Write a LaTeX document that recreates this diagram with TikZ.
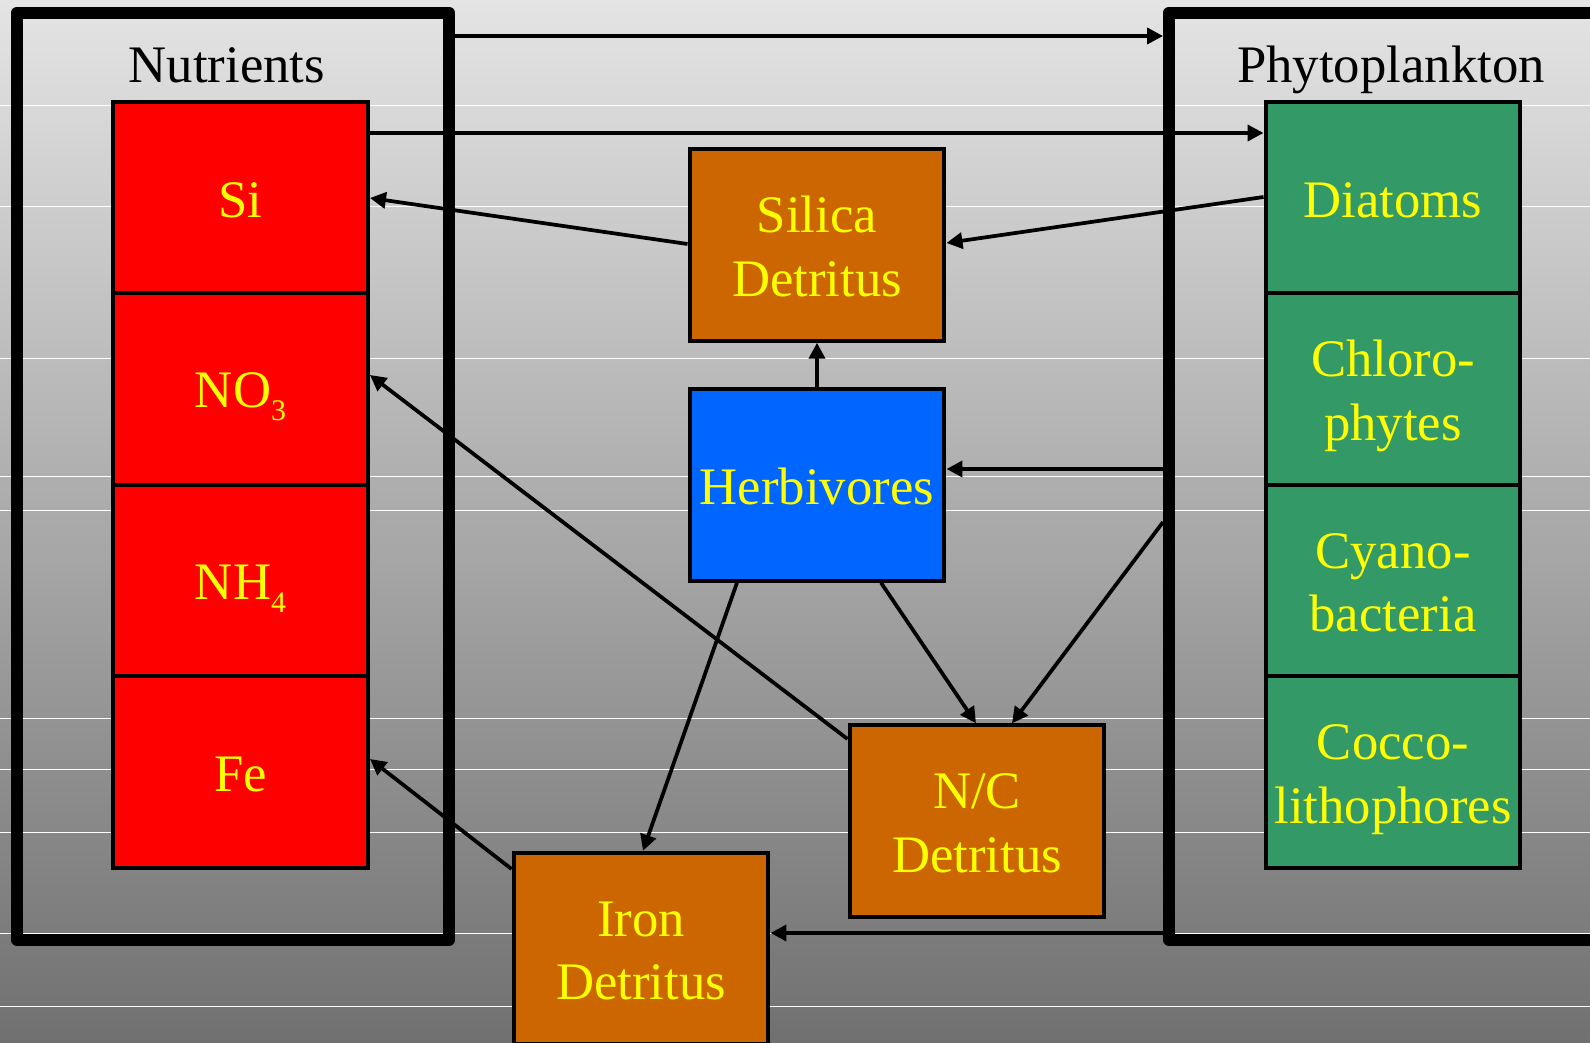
\documentclass[tikz,border=0pt]{standalone}
\usepackage{fontspec}
\setmainfont{Liberation Serif}
\usetikzlibrary{arrows.meta}
\definecolor{bgtop}{RGB}{228,228,228}
\definecolor{bgbot}{RGB}{112,112,112}
\definecolor{nutred}{RGB}{255,0,0}
\definecolor{phygreen}{RGB}{51,153,102}
\definecolor{detorange}{RGB}{204,102,0}
\definecolor{herbblue}{RGB}{0,102,255}
\definecolor{labyellow}{RGB}{255,255,0}
\newcommand\pst{\rule[-0.216em]{0pt}{1.176em}}
\newcommand\psb{\rule[-0.216em]{0pt}{1.107em}}
\newcommand\lowsub[1]{\raisebox{-7.7pt}{\fontsize{17}{17}\selectfont #1}}
\begin{document}
\begin{tikzpicture}[x=0.02cm, y=-0.02cm,
  groupframe/.style={draw=black, line width=0.24cm, line join=round, inner sep=0pt},
  cell/.style={draw=black, line width=0.08cm, inner sep=0pt, minimum width=5.1cm, minimum height=3.83cm, text=labyellow, align=center, font=\fontsize{30}{36}\selectfont},
  grouptitle/.style={inner sep=0pt, anchor=base, text=black, font=\fontsize{30}{36}\selectfont},
  flowarrow/.style={draw=black, line width=0.075cm, -{Triangle[length=0.32cm,width=0.32cm]}},
  bgline/.style={white, line width=0.02cm}]
\useasboundingbox (0,0) rectangle (1590,1043);
\clip (0,0) rectangle (1590,1043);
\shade[top color=bgtop, bottom color=bgbot] (0,0) rectangle (1590,1043);
\foreach \yy in {106,207,359,477,511,719,770,832,933,1006}
  \draw[bgline] (0,\yy) -- (1590,\yy);
% group frames
\node[groupframe, minimum width=8.64cm, minimum height=18.55cm] (nutframe) at (233,476.25) {};
\node[groupframe, minimum width=9.42cm, minimum height=18.55cm] (phyframe) at (1404.5,476.25) {};
% nutrients
\node[cell, fill=nutred] (si) at (240.5,197.5) {\pst Si};
\node[cell, fill=nutred] (no3) at (240.5,389) {\pst NO\lowsub{3}};
\node[cell, fill=nutred] (nh4) at (240.5,580.5) {\pst NH\lowsub{4}};
\node[cell, fill=nutred] (fe) at (240.5,772) {\pst Fe};
% phytoplankton
\node[cell, fill=phygreen] (dia) at (1393,197.5) {\pst Diatoms};
\node[cell, fill=phygreen] (chl) at (1393,389) {\pst Chloro-\\\psb phytes};
\node[cell, fill=phygreen] (cya) at (1393,580.5) {\pst Cyano-\\\psb bacteria};
\node[cell, fill=phygreen] (coc) at (1393,772) {\pst Cocco-\\\psb lithophores};
% middle boxes
\node[cell, fill=detorange] (sil) at (817,245) {\pst Silica\\\psb Detritus};
\node[cell, fill=herbblue] (herb) at (817,485) {\pst Herbivores};
\node[cell, fill=detorange] (nc) at (977,821) {\pst N/C\\\psb Detritus};
\node[cell, fill=detorange] (iron) at (641,948.5) {\pst Iron\\\psb Detritus};
% titles
\node[grouptitle] (nutlabel) at (227,83) {Nutrients};
\node[grouptitle] (phylabel) at (1391,83) {Phytoplankton};
% connectors
\draw[flowarrow] (nutframe.east |- 0,36) -- (phyframe.west |- 0,36);
\draw[flowarrow] (si.east |- 0,133) -- (dia.west |- 0,133);
\draw[flowarrow] (dia.west |- 0,197) -- (sil.east |- 0,243);
\draw[flowarrow] (sil.west |- 0,244) -- (si.east |- 0,198);
\draw[flowarrow] (herb.north) -- (sil.south);
\draw[flowarrow] (phyframe.west |- 0,469) -- (herb.east |- 0,469);
\draw[flowarrow] (phyframe.west |- 0,522) -- (nc.north -| 1012,0);
\draw[flowarrow] (herb.south -| 881,0) -- (nc.north -| 976,0);
\draw[flowarrow] (herb.south -| 737,0) -- (iron.north -| 643,0);
\draw[flowarrow] (nc.west |- 0,739) -- (no3.east |- 0,375);
\draw[flowarrow] (iron.west |- 0,869) -- (fe.east |- 0,759);
\draw[flowarrow] (phyframe.west |- 0,933) -- (iron.east |- 0,933);
\end{tikzpicture}
\end{document}
